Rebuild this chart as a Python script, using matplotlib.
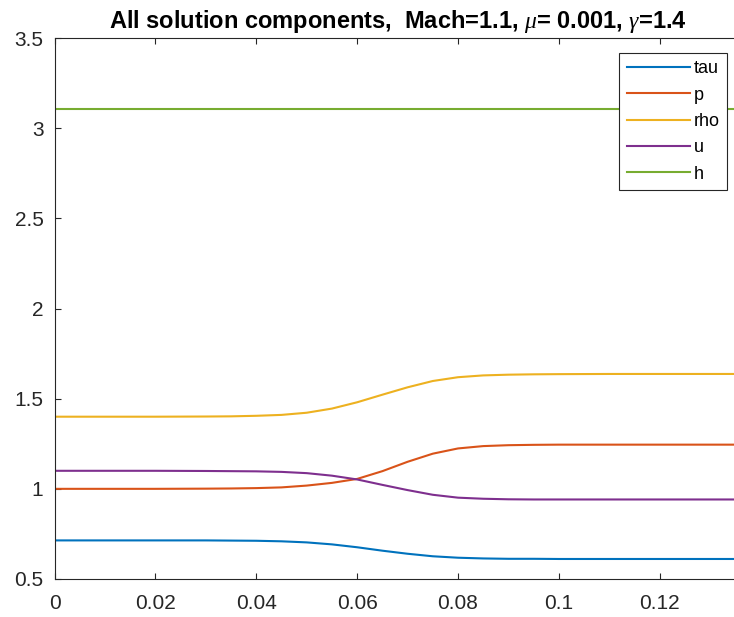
import matplotlib
matplotlib.use("Agg")
import matplotlib.pyplot as plt

# ---- values -------------------------------------------------------------------
x = [0, 0.01, 0.02, 0.03, 0.035, 0.04, 0.045, 0.05, 0.055, 0.06, 0.065,
     0.07, 0.075, 0.08, 0.085, 0.09, 0.095, 0.10, 0.11, 0.12, 0.135]
tau = [0.714, 0.714, 0.714, 0.714, 0.713, 0.712, 0.709, 0.703, 0.692, 0.676, 0.657,
       0.640, 0.626, 0.618, 0.614, 0.612, 0.612, 0.611, 0.611, 0.611, 0.611]
p = [1.000, 1.000, 1.000, 1.001, 1.002, 1.004, 1.008, 1.018, 1.033, 1.055, 1.098,
     1.150, 1.195, 1.224, 1.237, 1.242, 1.244, 1.245, 1.245, 1.245, 1.245]
rho = [1.400, 1.400, 1.400, 1.401, 1.402, 1.405, 1.410, 1.422, 1.445, 1.480, 1.522,
       1.563, 1.598, 1.619, 1.629, 1.633, 1.635, 1.636, 1.637, 1.637, 1.637]
u = [1.100, 1.100, 1.100, 1.099, 1.098, 1.097, 1.094, 1.087, 1.073, 1.052, 1.022,
     0.993, 0.967, 0.951, 0.945, 0.942, 0.941, 0.941, 0.941, 0.941, 0.941]
h = [3.105] * len(x)

series = [("tau", tau), ("p", p), ("rho", rho), ("u", u), ("h", h)]
colors = ["#0072BD", "#D95319", "#EDB120", "#7E2F8E", "#77AC30"]

plt.rcParams["font.family"] = ["Liberation Sans", "DejaVu Sans"]
plt.rcParams["mathtext.fontset"] = "custom"
plt.rcParams["mathtext.it"] = "Liberation Serif:italic"

W, H = 734, 617
fig = plt.figure(figsize=(W / 100, H / 100), dpi=100)
# axes run past the right edge of the picture (cropped like the reference)
ax = fig.add_axes([54.5 / W, 38 / H, 686 / W, 541 / H])

for (name, vals), col in zip(series, colors):
    ax.plot(x, vals, color=col, lw=1.5, label=name)

ax.set_xlim(0, 0.136)
ax.set_ylim(0.5, 3.5)
ax.set_xticks([0, 0.02, 0.04, 0.06, 0.08, 0.1, 0.12])
ax.set_xticklabels(["0", "0.02", "0.04", "0.06", "0.08", "0.1", "0.12"])
ax.set_yticks([0.5, 1, 1.5, 2, 2.5, 3, 3.5])
ax.set_yticklabels(["0.5", "1", "1.5", "2", "2.5", "3", "3.5"])

dark = "#262626"
for s in ax.spines.values():
    s.set_color(dark)
    s.set_linewidth(0.8)
ax.tick_params(direction="in", length=4.3, width=0.8, color=dark,
               labelcolor=dark, labelsize=15, top=True, right=True)
ax.tick_params(axis="x", pad=11)
ax.tick_params(axis="y", pad=8)

ax.set_title("All solution components,  Mach=1.1, $\\mu$= 0.001, $\\gamma$=1.4",
             fontsize=17, fontweight="bold", pad=7)

leg = ax.legend(loc="upper right", bbox_to_anchor=(727 / W, 1 - 53 / H),
                bbox_transform=fig.transFigure, borderaxespad=0,
                fontsize=13, handlelength=3.5, handletextpad=0.22,
                labelspacing=0.52, borderpad=0.4, fancybox=False,
                framealpha=1, edgecolor=dark)
leg.get_frame().set_linewidth(0.8)

fig.savefig("out.png", dpi=100)
